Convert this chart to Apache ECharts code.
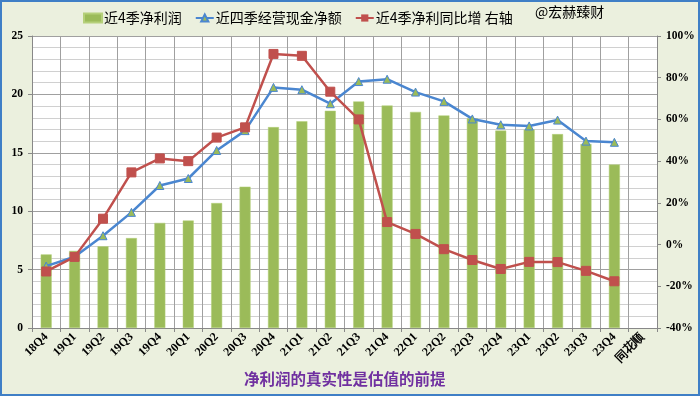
<!DOCTYPE html>
<html><head><meta charset="utf-8">
<script src="https://cdn.jsdelivr.net/npm/echarts@6/dist/echarts.min.js"></script>
<style>html,body{margin:0;padding:0;}#c{width:700px;height:396px;}</style>
</head><body><div id="c"></div>
<script>
const categories = ['18Q4','19Q1','19Q2','19Q3','19Q4','20Q1','20Q2','20Q3','20Q4','21Q1','21Q2','21Q3','21Q4','22Q1','22Q2','22Q3','22Q4','23Q1','23Q2','23Q3','23Q4','同花顺'];
const netProfit = [6.3,6.6,7.0,7.7,9.0,9.2,10.7,12.1,17.2,17.7,18.6,19.4,19.05,18.5,18.2,17.95,16.9,17.0,16.6,15.75,14.0,null];
const cashFlow = [5.3,6.1,7.9,9.9,12.2,12.8,15.2,16.9,20.6,20.4,19.2,21.1,21.3,20.2,19.4,17.9,17.4,17.3,17.8,16.0,15.9,null];
const profitYoY = [-12.9,-5.9,12.4,34.6,41.3,40.0,51.3,56.2,91.4,90.5,73.3,60.0,10.8,5.1,-2.2,-7.4,-11.7,-8.3,-8.4,-12.6,-17.6,null];
const leftTicks = {min:0,max:25,interval:5};
const rightTicks = {min:-40,max:100,interval:20};

const serif = '"Liberation Serif","DejaVu Serif",serif';
const cjk = '"Noto Sans CJK SC",sans-serif';
const chart = echarts.init(document.getElementById('c'));
chart.setOption({
  backgroundColor:'#EBF0DE',
  animation:false,
  graphic:[
    {type:'rect',shape:{x:1,y:1,width:698,height:394},style:{fill:'none',stroke:'#3F7FC6',lineWidth:2},z:100},
    {type:'text',left:244,top:371,style:{text:'净利润的真实性是估值的前提',fill:'#7030A0',font:'bold 15.5px '+cjk}},
    {type:'text',left:535,top:5,style:{text:'@宏赫臻财',fill:'#000',font:'14px '+cjk}}
  ],
  legend:{
    left:78, top:6, itemGap:13, itemWidth:18, itemHeight:9,
    textStyle:{fontFamily:cjk,fontSize:14,color:'#000',padding:[0,0,0,-3]},
    data:[
      {name:'近4季净利润',icon:'rect'},
      {name:'近四季经营现金净额'},
      {name:'近4季净利同比增 右轴'}
    ]
  },
  grid:{left:32,right:43,top:36,bottom:68,show:true,backgroundColor:'#fff',borderWidth:0},
  xAxis:{
    type:'category',data:categories,boundaryGap:true,
    axisLine:{lineStyle:{color:'#888'}},
    axisTick:{show:true,alignWithLabel:false,length:4,lineStyle:{color:'#888'}},
    splitLine:{show:true,interval:0,lineStyle:{color:'#A0A0A0',width:1}},
    axisLabel:{interval:0,rotate:45,fontFamily:serif,fontWeight:'bold',fontSize:12,color:'#000',margin:7}
  },
  yAxis:[
    {type:'value',min:leftTicks.min,max:leftTicks.max,interval:leftTicks.interval,
     axisLine:{show:true,lineStyle:{color:'#888'}},
     axisTick:{show:true,length:4,lineStyle:{color:'#888'}},
     axisLabel:{fontFamily:serif,fontWeight:'bold',fontSize:11.5,color:'#000',margin:9},
     splitLine:{show:true,lineStyle:{color:'#A0A0A0'}},
     minorTick:{show:false,splitNumber:5},
     minorSplitLine:{show:true,lineStyle:{color:'#D0D0D0'}}
    },
    {type:'value',min:rightTicks.min,max:rightTicks.max,interval:rightTicks.interval,
     axisLine:{show:true,lineStyle:{color:'#888'}},
     axisTick:{show:true,length:4,lineStyle:{color:'#888'}},
     axisLabel:{formatter:'{value}%',fontFamily:serif,fontWeight:'bold',fontSize:11.5,color:'#000',margin:9},
     splitLine:{show:false}
    }
  ],
  series:[
    {name:'近4季净利润',type:'bar',data:netProfit,yAxisIndex:0,barWidth:11,
     itemStyle:{color:'#9BBB59',borderColor:'#B5D07A',borderWidth:0.5},z:2},
    {name:'近四季经营现金净额',type:'line',data:cashFlow,yAxisIndex:0,
     symbol:'triangle',symbolSize:8,
     lineStyle:{color:'#4A86D0',width:2.5},
     itemStyle:{color:'#9BBB59',borderColor:'#4A86D0',borderWidth:1},z:3},
    {name:'近4季净利同比增 右轴',type:'line',data:profitYoY,yAxisIndex:1,
     symbol:'rect',symbolSize:9,
     lineStyle:{color:'#C0504D',width:2.5},
     itemStyle:{color:'#C0504D',borderColor:'#C0504D'},z:4}
  ]
});
</script></body></html>
